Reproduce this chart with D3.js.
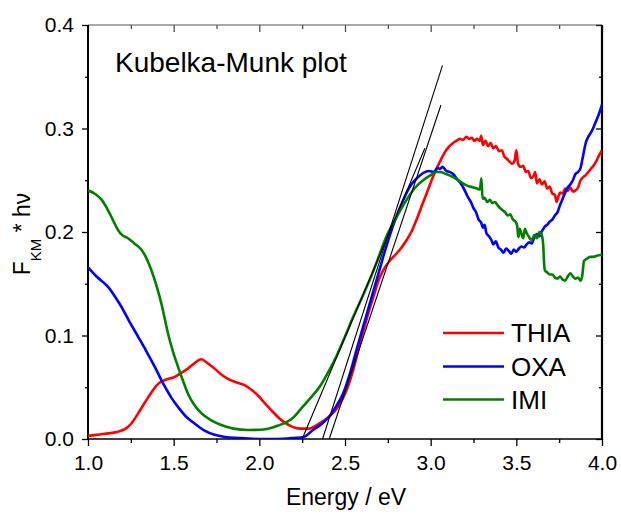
<!DOCTYPE html>
<html><head><meta charset="utf-8">
<script src="https://cdn.jsdelivr.net/npm/d3@7"></script>
<style>
html,body{margin:0;padding:0;background:#fff;}
text{font-family:"Liberation Sans",Arial,sans-serif;fill:#000;}
</style></head>
<body>
<svg id="chart" width="621" height="514"></svg>
<script>
// ---- data ----
const seriesNames = ["THIA", "OXA", "IMI"];
const seriesColors = ["#ff0000", "#0000ff", "#008000"];

const thiaE = [1.00,1.05,1.10,1.175,1.22,1.253,1.29,1.331,1.37,1.408,1.45,1.506,1.545,1.583,1.62,1.661,1.70,1.739,1.78,1.817,1.86,1.914,1.95,1.992,2.03,2.069,2.11,2.147,2.19,2.24,2.29,2.33,2.37,2.41,2.46,2.509,2.55,2.587,2.625,2.665,2.70,2.723,2.76,2.80,2.83,2.859,2.89,2.918,2.95,2.976,3.01,3.054,3.09,3.131,3.15,3.17,3.19,3.209,3.225,3.24,3.255,3.27,3.287,3.295,3.305,3.32,3.335,3.35,3.365,3.38,3.40,3.415,3.43,3.443,3.46,3.475,3.49,3.50,3.51,3.525,3.54,3.555,3.57,3.585,3.60,3.61,3.62,3.635,3.65,3.665,3.68,3.695,3.71,3.725,3.735,3.745,3.755,3.77,3.785,3.80,3.815,3.83,3.845,3.86,3.875,3.89,3.905,3.92,3.935,3.95,3.965,3.98,4.00];
const thiaY = [0.003,0.004,0.005,0.007,0.010,0.015,0.024,0.035,0.045,0.053,0.057,0.060,0.064,0.068,0.073,0.077,0.073,0.068,0.062,0.058,0.055,0.052,0.048,0.042,0.035,0.028,0.021,0.016,0.012,0.010,0.010,0.013,0.017,0.022,0.031,0.047,0.068,0.092,0.115,0.137,0.155,0.163,0.172,0.179,0.185,0.192,0.201,0.212,0.226,0.237,0.252,0.268,0.279,0.286,0.288,0.290,0.289,0.292,0.290,0.291,0.288,0.290,0.288,0.293,0.284,0.288,0.283,0.286,0.281,0.283,0.278,0.279,0.273,0.271,0.268,0.266,0.269,0.279,0.266,0.263,0.264,0.258,0.259,0.252,0.254,0.258,0.247,0.251,0.246,0.249,0.242,0.244,0.237,0.236,0.229,0.234,0.238,0.237,0.242,0.240,0.243,0.239,0.240,0.243,0.250,0.253,0.255,0.258,0.261,0.264,0.268,0.273,0.279];

const oxaE = [1.00,1.05,1.117,1.16,1.194,1.24,1.292,1.34,1.389,1.447,1.49,1.525,1.57,1.622,1.68,1.739,1.80,1.875,2.0,2.1,2.2,2.26,2.315,2.36,2.41,2.45,2.489,2.53,2.567,2.605,2.645,2.685,2.723,2.76,2.80,2.84,2.879,2.92,2.956,2.99,3.02,3.04,3.054,3.07,3.09,3.11,3.131,3.15,3.17,3.19,3.205,3.22,3.235,3.25,3.265,3.28,3.295,3.305,3.315,3.325,3.34,3.355,3.365,3.38,3.395,3.41,3.425,3.44,3.455,3.47,3.485,3.50,3.515,3.53,3.545,3.56,3.575,3.59,3.605,3.62,3.635,3.65,3.665,3.68,3.695,3.71,3.725,3.74,3.755,3.77,3.785,3.80,3.815,3.83,3.845,3.86,3.875,3.89,3.905,3.92,3.935,3.95,3.965,3.98,4.00];
const oxaY = [0.166,0.157,0.147,0.137,0.128,0.114,0.099,0.085,0.070,0.051,0.039,0.031,0.022,0.015,0.008,0.004,0.002,0.001,0.000,0.000,0.001,0.002,0.009,0.014,0.022,0.032,0.044,0.064,0.086,0.108,0.131,0.154,0.176,0.196,0.215,0.231,0.244,0.252,0.257,0.259,0.258,0.262,0.261,0.263,0.259,0.258,0.256,0.252,0.248,0.243,0.238,0.233,0.229,0.223,0.219,0.212,0.209,0.204,0.207,0.199,0.196,0.192,0.188,0.191,0.185,0.183,0.180,0.184,0.182,0.179,0.183,0.181,0.184,0.186,0.185,0.188,0.190,0.189,0.195,0.198,0.196,0.201,0.205,0.207,0.210,0.212,0.216,0.219,0.226,0.232,0.238,0.243,0.246,0.250,0.256,0.258,0.262,0.274,0.286,0.292,0.296,0.301,0.307,0.313,0.323];

const imiE = [1.00,1.04,1.08,1.117,1.15,1.175,1.20,1.233,1.27,1.311,1.34,1.37,1.40,1.428,1.447,1.467,1.495,1.525,1.555,1.583,1.62,1.661,1.72,1.778,1.85,1.933,2.0,2.05,2.11,2.167,2.20,2.237,2.29,2.354,2.40,2.45,2.50,2.548,2.60,2.645,2.69,2.743,2.80,2.859,2.91,2.956,3.00,3.034,3.054,3.09,3.131,3.17,3.209,3.25,3.27,3.287,3.296,3.303,3.315,3.33,3.345,3.36,3.375,3.39,3.405,3.42,3.435,3.45,3.465,3.48,3.495,3.505,3.512,3.52,3.53,3.54,3.55,3.56,3.575,3.59,3.605,3.62,3.635,3.65,3.657,3.662,3.667,3.68,3.695,3.71,3.725,3.74,3.755,3.77,3.785,3.80,3.815,3.83,3.845,3.86,3.875,3.885,3.895,3.91,3.93,3.95,3.97,4.00];
const imiY = [0.240,0.237,0.231,0.221,0.210,0.202,0.197,0.194,0.189,0.183,0.175,0.163,0.148,0.131,0.117,0.102,0.085,0.070,0.056,0.044,0.033,0.025,0.018,0.0135,0.010,0.0087,0.009,0.010,0.013,0.017,0.021,0.028,0.038,0.051,0.064,0.080,0.099,0.118,0.137,0.154,0.173,0.196,0.214,0.231,0.243,0.250,0.255,0.258,0.258,0.256,0.253,0.249,0.245,0.243,0.242,0.241,0.252,0.232,0.233,0.229,0.231,0.228,0.229,0.226,0.223,0.221,0.219,0.216,0.217,0.212,0.210,0.206,0.195,0.203,0.198,0.194,0.203,0.199,0.195,0.192,0.197,0.194,0.200,0.196,0.187,0.170,0.163,0.161,0.159,0.159,0.156,0.155,0.157,0.154,0.153,0.157,0.160,0.157,0.155,0.156,0.153,0.158,0.172,0.174,0.176,0.176,0.177,0.178];

// linear fits (band-gap tangents): start energy at y=0, end energy and end value
const tangentX0 = [2.369, 2.408, 2.25];
const tangentX1 = [3.069, 3.06, 2.966];
const tangentY1 = [0.361, 0.3227, 0.281];

const xMajorTicks = [1.0, 1.5, 2.0, 2.5, 3.0, 3.5, 4.0];
const xMinorTicks = [1.25, 1.75, 2.25, 2.75, 3.25, 3.75];
const yMajorTicks = [0.0, 0.1, 0.2, 0.3, 0.4];
const yMinorTicks = [0.05, 0.15, 0.25, 0.35];

const chartTitle = "Kubelka-Munk plot";
const xTitle = "Energy / eV";

// ---- drawing ----
const svg = d3.select("#chart");
const L = 88, R = 602, T = 25, B = 439;
const x = d3.scaleLinear().domain([1, 4]).range([L, R]);
const y = d3.scaleLinear().domain([0, 0.4]).range([B, T]);

svg.append("defs").append("clipPath").attr("id", "clip")
  .append("rect").attr("x", L).attr("y", T).attr("width", R - L).attr("height", B - T);

const fmt = d3.format(".1f");

function styleAxis(g, color, width) {
  g.select(".domain").remove();
  g.selectAll(".tick line").attr("stroke", color).attr("stroke-width", width);
  g.selectAll("text").attr("font-size", 21).attr("fill", "#000");
}

// bottom
const gb = svg.append("g").attr("transform", `translate(0,${B})`)
  .call(d3.axisBottom(x).tickValues(xMajorTicks).tickFormat(fmt).tickSize(7).tickPadding(9));
styleAxis(gb, "#000", 1.3);
const gbm = svg.append("g").attr("transform", `translate(0,${B})`)
  .call(d3.axisBottom(x).tickValues(xMinorTicks).tickFormat("").tickSize(4));
styleAxis(gbm, "#000", 1.3);
// top (inside ticks)
const gt = svg.append("g").attr("transform", `translate(0,${T})`)
  .call(d3.axisTop(x).tickValues(xMajorTicks).tickFormat("").tickSize(-7));
styleAxis(gt, "#444", 1.2);
const gtm = svg.append("g").attr("transform", `translate(0,${T})`)
  .call(d3.axisTop(x).tickValues(xMinorTicks).tickFormat("").tickSize(-4));
styleAxis(gtm, "#444", 1.2);
// left
const gl = svg.append("g").attr("transform", `translate(${L},0)`)
  .call(d3.axisLeft(y).tickValues(yMajorTicks).tickFormat(fmt).tickSize(6).tickPadding(8));
styleAxis(gl, "#000", 1.3);
const glm = svg.append("g").attr("transform", `translate(${L},0)`)
  .call(d3.axisLeft(y).tickValues(yMinorTicks).tickFormat("").tickSize(3));
styleAxis(glm, "#000", 1.3);
// right (inside ticks)
const gr = svg.append("g").attr("transform", `translate(${R},0)`)
  .call(d3.axisRight(y).tickValues(yMajorTicks).tickFormat("").tickSize(-6));
styleAxis(gr, "#000", 1.3);
const grm = svg.append("g").attr("transform", `translate(${R},0)`)
  .call(d3.axisRight(y).tickValues(yMinorTicks).tickFormat("").tickSize(-3));
styleAxis(grm, "#000", 1.3);

// frame lines
svg.append("line").attr("x1", L).attr("x2", R).attr("y1", T).attr("y2", T).attr("stroke", "#555").attr("stroke-width", 1.2);
svg.append("line").attr("x1", L).attr("x2", R).attr("y1", B).attr("y2", B).attr("stroke", "#000").attr("stroke-width", 1.6);
svg.append("line").attr("x1", L).attr("x2", L).attr("y1", T).attr("y2", B + 0.8).attr("stroke", "#000").attr("stroke-width", 2);
svg.append("line").attr("x1", R).attr("x2", R).attr("y1", T).attr("y2", B + 0.8).attr("stroke", "#000").attr("stroke-width", 2.2);

// series
const series = [
  { E: thiaE, V: thiaY },
  { E: oxaE, V: oxaY },
  { E: imiE, V: imiY }
];
const line = d3.line().x(d => x(d[0])).y(d => y(d[1])).curve(d3.curveMonotoneX);
const plot = svg.append("g").attr("clip-path", "url(#clip)");
series.forEach((s, i) => {
  const pts = s.E.map((e, k) => [e, s.V[k]]);
  plot.append("path").datum(pts).attr("d", line)
    .attr("fill", "none").attr("stroke", seriesColors[i]).attr("stroke-width", 2.6)
    .attr("stroke-linejoin", "round");
});

// tangents
tangentX0.forEach((x0, i) => {
  svg.append("line")
    .attr("x1", x(x0)).attr("y1", y(0))
    .attr("x2", x(tangentX1[i])).attr("y2", y(tangentY1[i]))
    .attr("stroke", "#000").attr("stroke-width", 1.1);
});

// title inside plot
svg.append("text").attr("x", 115).attr("y", 72).attr("font-size", 28).text(chartTitle);

// axis titles
svg.append("text").attr("x", 346).attr("y", 505).attr("text-anchor", "middle")
  .attr("font-size", 23).text(xTitle);

const yt = svg.append("text").attr("transform", "translate(30,234) rotate(-90)")
  .attr("text-anchor", "middle").attr("font-size", 23);
yt.append("tspan").text("F");
yt.append("tspan").attr("font-size", 15).attr("dy", 11).text("KM");
yt.append("tspan").attr("dy", -11).text(" * h\u03bd");

// legend
const legY = [333, 366.5, 399.5];
seriesNames.forEach((n, i) => {
  svg.append("line").attr("x1", 443).attr("x2", 504).attr("y1", legY[i]).attr("y2", legY[i])
    .attr("stroke", seriesColors[i]).attr("stroke-width", 2.6);
  svg.append("text").attr("x", 511).attr("y", legY[i] + 9).attr("font-size", 26).text(n);
});
</script>
</body></html>
